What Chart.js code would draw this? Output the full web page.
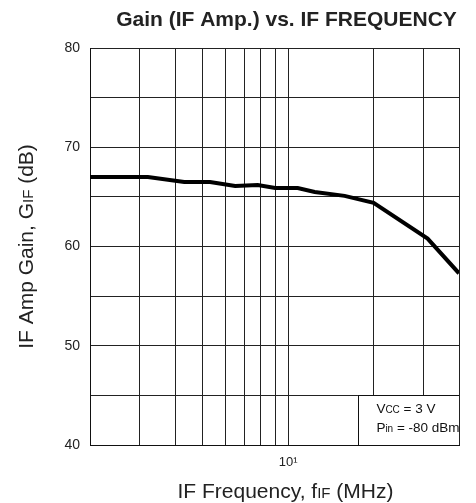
<!DOCTYPE html>
<html><head><meta charset="utf-8">
<script src="https://cdn.jsdelivr.net/npm/chart.js@4"></script>
<style>html,body{margin:0;padding:0;background:#fff}#wrap{width:476px;height:503px}</style>
</head><body><div id="wrap"><canvas id="c" width="476" height="503"></canvas></div>
<script>
const freqMHz = [2, 3.2, 4.3, 5.3, 6.5, 7.8, 9, 10.8, 12.4, 15.8, 20, 31, 40];
const gainDB  = [67.0, 67.0, 66.5, 66.5, 66.1, 66.2, 65.9, 65.9, 65.5, 65.1, 64.4, 60.8, 57.3];
const xGridValues = [2,3,4,5,6,7,8,9,10,20,30,40];
const yLabelValues = [40,50,60,70,80];
const titleText = 'Gain (IF Amp.) vs. IF FREQUENCY';
const noteBoxFrom = {x: 17.6, y: 45};

const FONT = '"Liberation Sans", Arial, sans-serif';

function drawMixed(ctx, parts, x, y, align) {
  let total = 0;
  parts.forEach(p => { ctx.font = (p[2]?'bold ':'') + p[1] + 'px ' + FONT; total += ctx.measureText(p[0]).width; });
  let cx = align === 'center' ? x - total/2 : (align === 'right' ? x - total : x);
  parts.forEach(p => {
    ctx.font = (p[2]?'bold ':'') + p[1] + 'px ' + FONT;
    ctx.textAlign = 'left';
    ctx.fillText(p[0], cx, y);
    cx += ctx.measureText(p[0]).width;
  });
}

const annot = {
  id: 'annot',
  beforeDatasetsDraw(chart) {
    const {ctx, scales:{x, y}, chartArea} = chart;
    const bx = x.getPixelForValue(noteBoxFrom.x);
    const by = y.getPixelForValue(noteBoxFrom.y);
    ctx.save();
    ctx.fillStyle = '#fff';
    ctx.fillRect(bx, by, chartArea.right - bx, chartArea.bottom - by);
    ctx.strokeStyle = '#111';
    ctx.lineWidth = 1;
    ctx.beginPath();
    ctx.moveTo(Math.round(bx)+0.5, by); ctx.lineTo(Math.round(bx)+0.5, chartArea.bottom);
    ctx.moveTo(bx, Math.round(by)+0.5); ctx.lineTo(chartArea.right, Math.round(by)+0.5);
    ctx.stroke();
    ctx.fillStyle = '#111';
    ctx.textBaseline = 'alphabetic';
    drawMixed(ctx, [['V',13.5],['CC',10],[' = 3 V',13.5]], bx + 18.5, by + 18, 'left');
    drawMixed(ctx, [['P',13.5],['in',10],[' = -80 dBm',13.5]], bx + 18.5, by + 37, 'left');
    ctx.restore();
  },
  afterDraw(chart) {
    const {ctx, chartArea} = chart;
    const cx = (chartArea.left+chartArea.right)/2;
    ctx.save();
    ctx.fillStyle = '#222';
    ctx.textBaseline = 'alphabetic';
    drawMixed(ctx, [[titleText,21,true]], cx + 12, 26, 'center');
    drawMixed(ctx, [['IF Frequency, f',21],['IF',15],[' (MHz)',21]], cx + 11, 498, 'center');
    ctx.translate(33, (chartArea.top+chartArea.bottom)/2);
    ctx.rotate(-Math.PI/2);
    drawMixed(ctx, [['IF Amp Gain, G',21],['IF',15],[' (dB)',21]], 0, 0, 'center');
    ctx.restore();
  }
};

new Chart(document.getElementById('c'), {
  type: 'line',
  data: { datasets: [{
    data: freqMHz.map((f,i)=>({x:f, y:gainDB[i]})),
    borderColor: '#000', borderWidth: 4, pointRadius: 0, tension: 0, fill: false
  }]},
  options: {
    responsive: false, animation: false,
    layout: { padding: { top: 48, right: 17, left: 0, bottom: 0 } },
    plugins: { legend: {display:false}, tooltip: {enabled:false}, title:{display:false} },
    scales: {
      x: {
        type: 'logarithmic', min: 2, max: 40,
        afterBuildTicks: s => { s.ticks = xGridValues.map(v => ({value: v})); },
        afterFit: s => { s.height = 58; },
        grid: { color: '#222', lineWidth: 1, drawTicks: false },
        border: { color: '#111', width: 1 },
        ticks: { autoSkip: false, maxRotation: 0, padding: 10, color: '#222',
          font: { family: FONT, size: 13 },
          callback: v => v === 10 ? '10\u00b9' : '' }
      },
      y: {
        min: 40, max: 80,
        ticks: { stepSize: 5, padding: 10, color: '#222', font: { family: FONT, size: 14 },
          callback: v => yLabelValues.includes(v) ? String(v) : '' },
        afterFit: s => { s.width = 90; },
        grid: { color: '#222', lineWidth: 1, drawTicks: false },
        border: { color: '#111', width: 1 }
      }
    }
  },
  plugins: [annot]
});
</script></body></html>
